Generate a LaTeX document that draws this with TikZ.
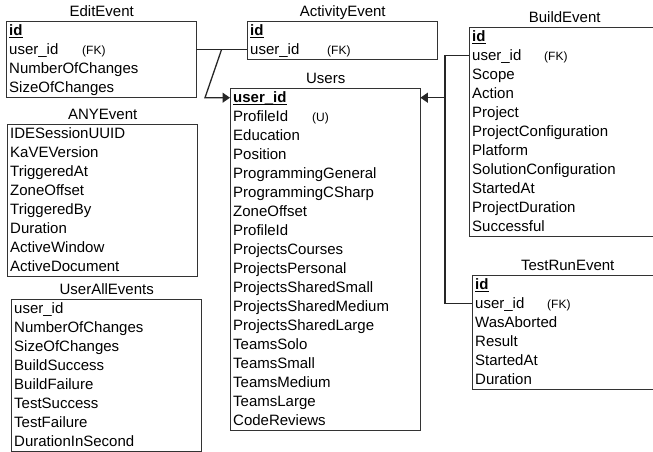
\documentclass[tikz,border=0pt]{standalone}
\usepackage{fontspec}
\setmainfont{Liberation Sans}
\usetikzlibrary{arrows.meta,calc}

% primary key: bold with a solid underline
\newcommand{\pkey}[1]{\setbox0\hbox{\textbf{#1}}\rlap{\rule[-2.2pt]{\wd0}{1.3pt}}\box0}

\tikzset{
  tablebox/.style={draw=black!80, line width=1.4pt, inner sep=0pt,
    minimum width=190pt, anchor=north west},
  tabletitle/.style={font=\fontsize{15}{18}\selectfont, inner sep=0pt, anchor=base},
  rowcell/.style={font=\fontsize{15}{18}\selectfont, inner xsep=3pt, inner ysep=2pt,
    text width=184pt, align=left, text height=12.5pt, text depth=2.5pt,
    anchor=north west},
  tag/.style={font=\fontsize{12}{14}\selectfont, inner sep=0pt, anchor=base west},
  link/.style={draw=black!85, line width=1.3pt},
  tip/.style={-{Triangle[length=7.5pt,width=10pt]}},
}

% #1 name, #2 left, #3 top, #4 number of rows, #5 title, #6 rows
\newcommand{\erdtable}[6]{%
  \node[tablebox, minimum height=#4*19pt] (#1) at (#2,#3) {};
  \node[tabletitle] (#1-title) at ([yshift=4.5pt]#1.north) {#5};
  \foreach \txt [count=\i] in {#6} {
    \node[rowcell] (#1-\i) at ($(#1.north west)+(0pt,{-19pt*(\i-1)})$) {\txt};
  }%
}

\begin{document}
\begin{tikzpicture}[x=1pt,y=-1pt]
\path[use as bounding box, clip] (0,0) rectangle (653,451);

\erdtable{edit}{6}{21}{4}{EditEvent}
  {{\pkey{id}}, user\_id, NumberOfChanges, SizeOfChanges}
\node[tag] (edit-fk) at ([xshift=76pt]edit-2.base west) {(FK)};

\erdtable{act}{247}{21}{2}{ActivityEvent}
  {{\pkey{id}}, user\_id}
\node[tag] (act-fk) at ([xshift=80pt]act-2.base west) {(FK)};

\erdtable{users}{230}{88}{18}{Users}
  {{\pkey{user\_id}}, ProfileId, Education, Position, ProgrammingGeneral,
   ProgrammingCSharp, ZoneOffset, ProfileId, ProjectsCourses, ProjectsPersonal,
   ProjectsSharedSmall, ProjectsSharedMedium, ProjectsSharedLarge, TeamsSolo,
   TeamsSmall, TeamsMedium, TeamsLarge, CodeReviews}
\node[tag] (users-u) at ([xshift=82pt]users-2.base west) {(U)};

\erdtable{build}{469}{27}{11}{BuildEvent}
  {{\pkey{id}}, user\_id, Scope, Action, Project, ProjectConfiguration, Platform,
   SolutionConfiguration, StartedAt, ProjectDuration, Successful}
\node[tag] (build-fk) at ([xshift=75pt]build-2.base west) {(FK)};

\erdtable{test}{472}{275}{6}{TestRunEvent}
  {{\pkey{id}}, user\_id, WasAborted, Result, StartedAt, Duration}
\node[tag] (test-fk) at ([xshift=75pt]test-2.base west) {(FK)};

\erdtable{any}{7}{124}{8}{ANYEvent}
  {IDESessionUUID, KaVEVersion, TriggeredAt, ZoneOffset, TriggeredBy, Duration,
   ActiveWindow, ActiveDocument}

\erdtable{all}{11}{299}{8}{UserAllEvents}
  {user\_id, NumberOfChanges, SizeOfChanges, BuildSuccess, BuildFailure,
   TestSuccess, TestFailure, DurationInSecond}

% foreign keys of the edit and activity events
\coordinate (lj) at (221.5,0);
\coordinate (lk) at (205,0);
\draw[link] (edit-2.east) -- (act-2.west);
\draw[link, tip] (edit-2.east -| lj) -- (users-1.west -| lk) -- (users-1.west);

% foreign keys of the build and test run events
\coordinate (rj) at (445,0);
\draw[link] (build-2.west) -- (build-2.west -| rj) -- (test-2.west -| rj) -- (test-2.west);
\draw[link, tip] (users-1.east -| rj) -- (users-1.east);
\end{tikzpicture}
\end{document}
